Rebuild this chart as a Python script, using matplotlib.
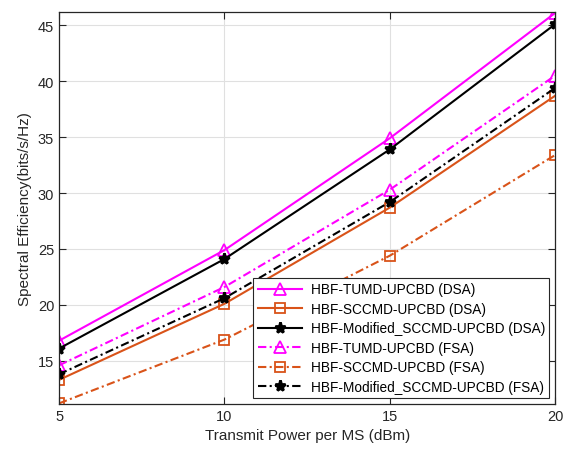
import matplotlib.pyplot as plt

plt.rcParams['font.family'] = ['Liberation Sans', 'DejaVu Sans']

power = [5, 10, 15, 20]

tumd_dsa = [16.8, 24.9, 34.9, 46.1]
sccmd_dsa = [13.3, 20.1, 28.7, 38.7]
mod_dsa = [16.1, 24.1, 33.9, 45.1]
tumd_fsa = [14.6, 21.6, 30.3, 40.5]
sccmd_fsa = [11.2, 16.9, 24.4, 33.4]
mod_fsa = [13.8, 20.6, 29.2, 39.4]

magenta = '#FF00FF'
orange = '#D95319'

fig = plt.figure(figsize=(5.73, 4.56), dpi=100)
ax = fig.add_axes([0.103, 0.112, 0.866, 0.860])

lw = 1.5
dd = (4, 1.6, 1, 1.6)
ax.plot(power, tumd_dsa, '-', color=magenta, lw=lw, marker='^', ms=8,
        mfc='none', mew=1.3, label='HBF-TUMD-UPCBD (DSA)')
ax.plot(power, sccmd_dsa, '-', color=orange, lw=lw, marker='s', ms=6.5,
        mfc='none', mew=1.3, label='HBF-SCCMD-UPCBD (DSA)')
ax.plot(power, mod_dsa, '-', color='black', lw=lw, marker='*', ms=8,
        mew=2, label='HBF-Modified_SCCMD-UPCBD (DSA)')
ax.plot(power, tumd_fsa, color=magenta, lw=lw, dashes=dd, marker='^', ms=8,
        mfc='none', mew=1.3, label='HBF-TUMD-UPCBD (FSA)')
ax.plot(power, sccmd_fsa, color=orange, lw=lw, dashes=dd, marker='s', ms=6.5,
        mfc='none', mew=1.3, label='HBF-SCCMD-UPCBD (FSA)')
ax.plot(power, mod_fsa, color='black', lw=lw, dashes=dd, marker='*', ms=8,
        mew=2, label='HBF-Modified_SCCMD-UPCBD (FSA)')

ax.set_xlim(5, 20)
ax.set_ylim(11.15, 46.2)
ax.set_xticks([5, 10, 15, 20])
ax.set_yticks([15, 20, 25, 30, 35, 40, 45])
ax.grid(True, color='#E0E0E0', lw=0.8)
ax.set_axisbelow(True)
ax.tick_params(direction='in', top=True, right=True, labelsize=10.5,
               colors='#262626', length=5)
for s in ax.spines.values():
    s.set_color('#262626')
    s.set_linewidth(0.9)

ax.set_xlabel('Transmit Power per MS (dBm)', fontsize=11, color='#262626')
ax.set_ylabel('Spectral Efficiency(bits/s/Hz)', fontsize=11, color='#262626')

leg = ax.legend(loc='lower right', fontsize=9.8, fancybox=False,
                framealpha=1, edgecolor='#262626', borderpad=0.3,
                labelspacing=0.4, handlelength=3.3, handletextpad=0.6,
                borderaxespad=0.45)
leg.get_frame().set_linewidth(0.8)

fig.savefig('out.png', dpi=100)
